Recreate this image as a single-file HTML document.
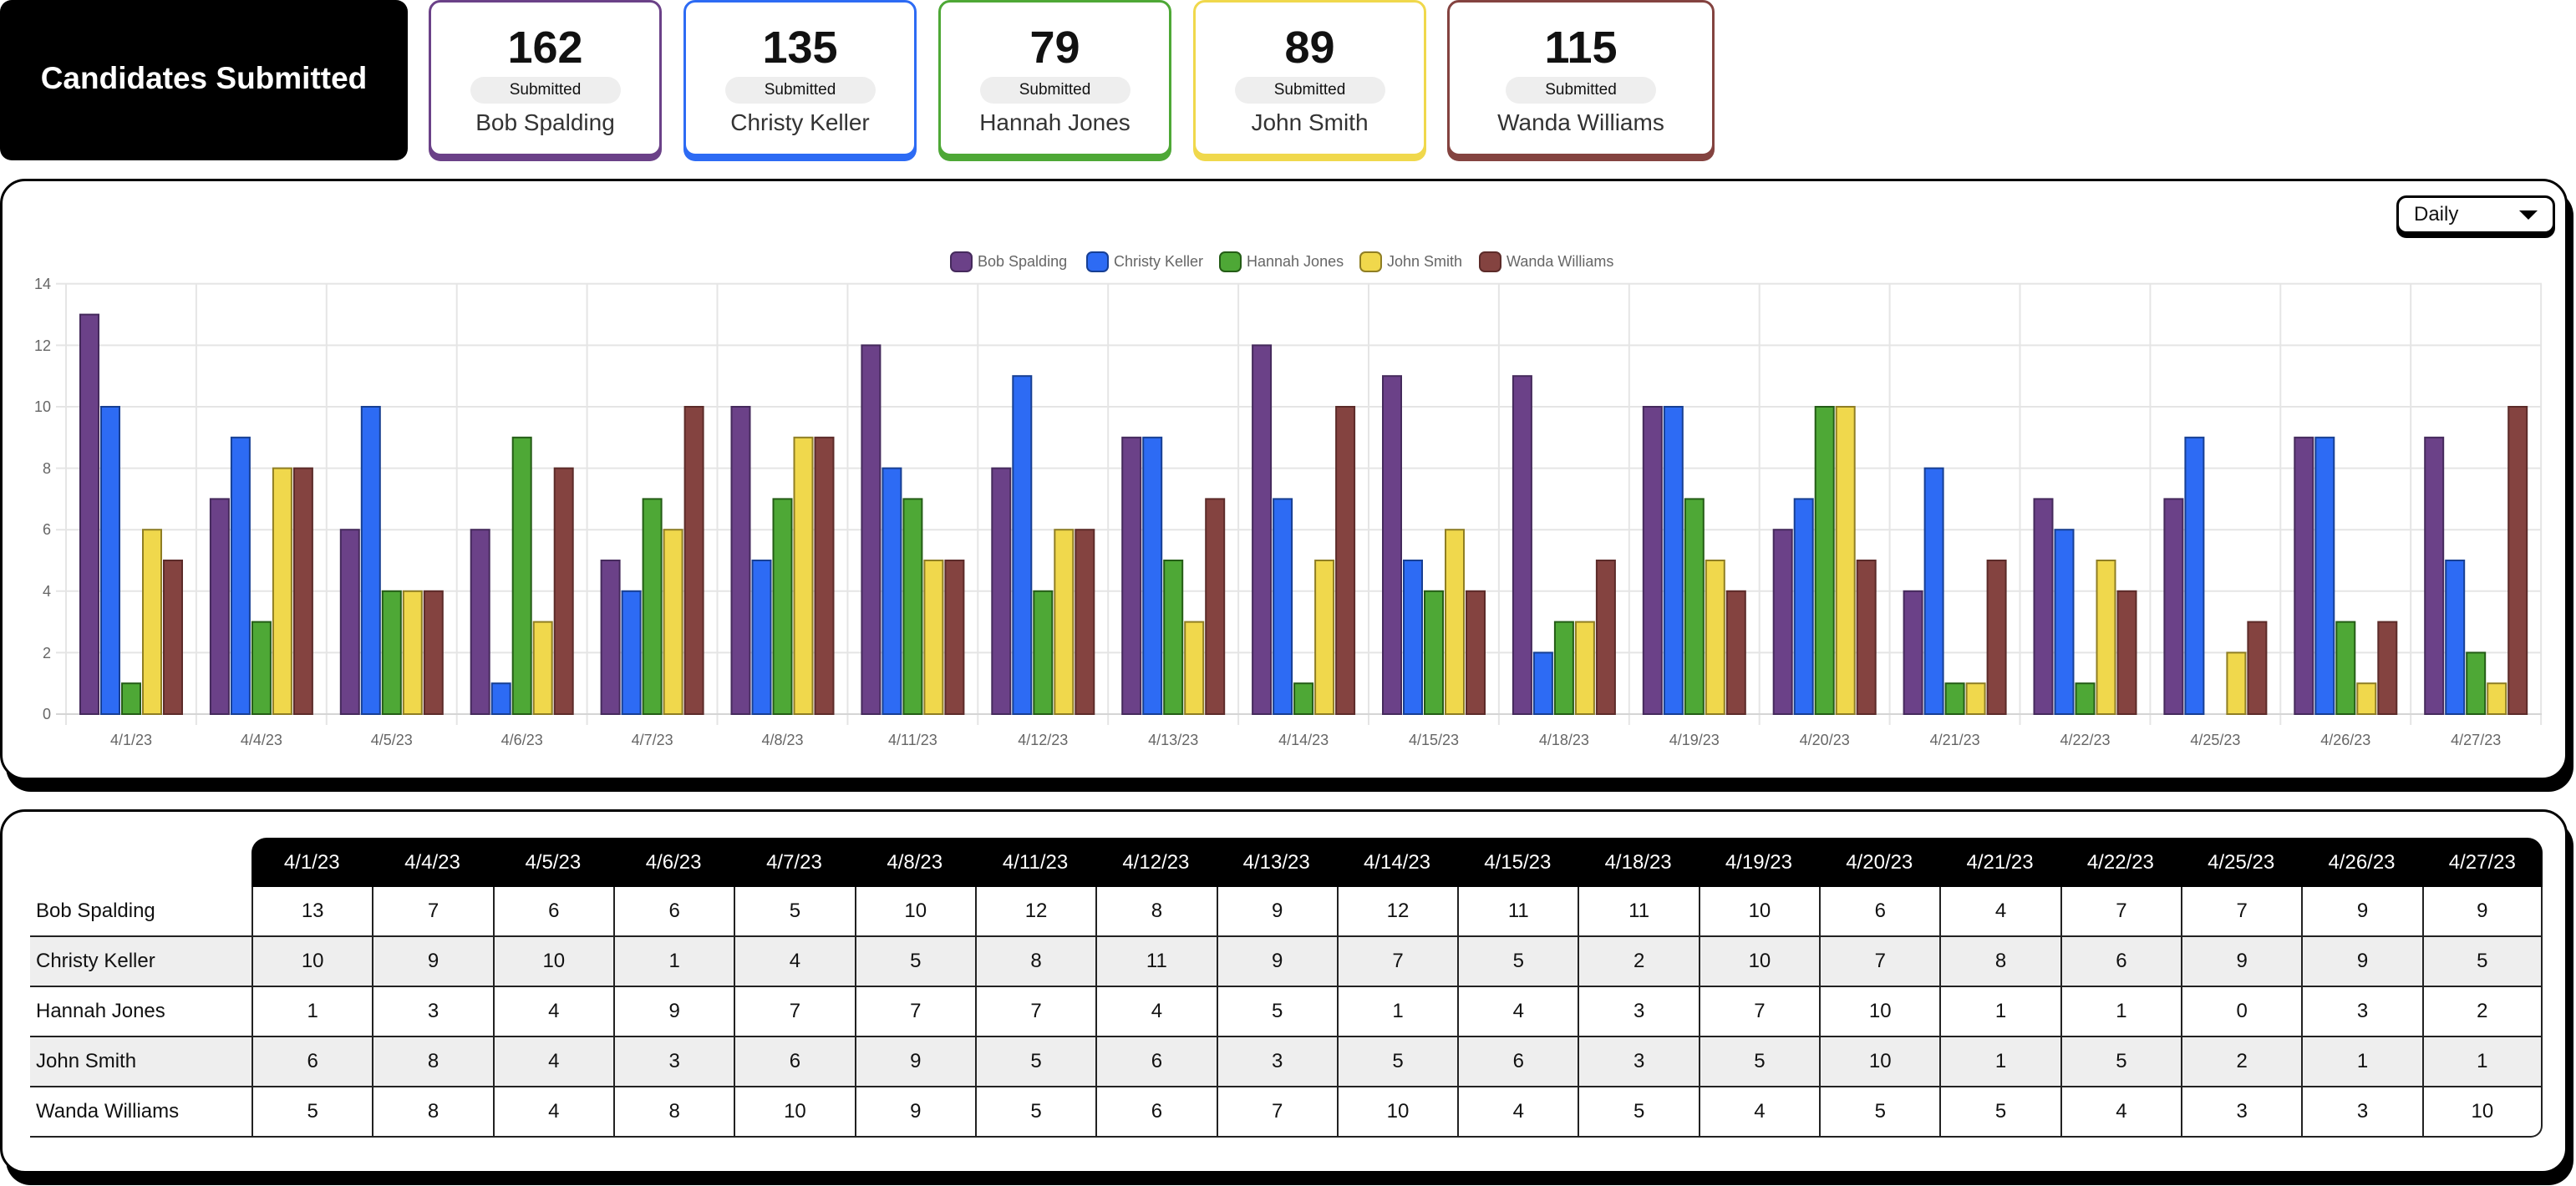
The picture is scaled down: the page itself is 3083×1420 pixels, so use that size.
<!DOCTYPE html>
<html><head><meta charset="utf-8"><style>
*{box-sizing:border-box;margin:0;padding:0}
body{width:3083px;height:1420px;background:#fff;position:relative;overflow:hidden;font-family:"Liberation Sans",sans-serif;color:#111}
.title{position:absolute;left:0;top:0;width:488px;height:187px;background:#000;border-radius:14px;box-shadow:0 5px 0 #000;color:#fff;font-weight:bold;font-size:37px;display:flex;align-items:center;justify-content:center}
.pc{position:absolute;top:0;height:187px;border:3px solid;border-radius:14px;background:#fff;text-align:center}
.pc .n{position:absolute;left:0;right:0;top:24px;font-size:54px;line-height:60px;font-weight:bold;color:#111}
.pc .pill{position:absolute;left:50%;margin-left:-90px;width:180px;top:89px;height:32px;border-radius:16px;background:#eee;font-size:19px;line-height:32px;color:#111}
.pc .nm{position:absolute;left:0;right:0;top:127px;font-size:28px;line-height:34px;color:#333}
.card{position:absolute;left:0;width:3073px;border:3px solid #000;border-radius:30px;background:#fff;box-shadow:7px 14px 0 #000}
.dd{position:absolute;left:2868px;top:234px;width:190px;height:46px;border:3px solid #000;border-radius:12px;background:#fff;box-shadow:0 5px 0 #000;font-size:24px;line-height:40px;padding-left:18px}
.dd:after{content:"";position:absolute;right:18px;top:15px;border-left:11px solid transparent;border-right:11px solid transparent;border-top:11px solid #000}
table{position:absolute;left:36px;top:1003px;border-collapse:separate;border-spacing:0;table-layout:fixed;width:3007px;font-size:24px}
td,th{height:60px;text-align:center;font-weight:normal}
th{background:#000;color:#fff;height:59px}
th.c1{border-top-left-radius:18px}
th.cl{border-top-right-radius:18px}
th.e{background:#fff}
td{border-bottom:2px solid #222;border-left:2px solid #222}
td.nm{text-align:left;padding-left:7px;border-left:none}
td.last{border-right:2px solid #222}
tr.g td{background:#eee}
tr.lr td.last{border-bottom-right-radius:14px}
.p{fill:#6b4188;stroke:#452a5c}.b{fill:#2d6bf4;stroke:#173f93}.gr{fill:#4ea836;stroke:#245c16}.y{fill:#f0d84c;stroke:#8f7e24}.w{fill:#844340;stroke:#5c2b29}
rect{stroke-width:2}
</style></head><body>
<div class="title">Candidates Submitted</div>
<div class="pc" style="left:513px;width:279px;border-color:#6b4188;box-shadow:0 6px 0 #6b4188"><div class="n">162</div><div class="pill">Submitted</div><div class="nm">Bob Spalding</div></div>
<div class="pc" style="left:818px;width:279px;border-color:#2d6bf4;box-shadow:0 6px 0 #2d6bf4"><div class="n">135</div><div class="pill">Submitted</div><div class="nm">Christy Keller</div></div>
<div class="pc" style="left:1123px;width:279px;border-color:#4ea836;box-shadow:0 6px 0 #4ea836"><div class="n">79</div><div class="pill">Submitted</div><div class="nm">Hannah Jones</div></div>
<div class="pc" style="left:1428px;width:279px;border-color:#f0d84c;box-shadow:0 6px 0 #f0d84c"><div class="n">89</div><div class="pill">Submitted</div><div class="nm">John Smith</div></div>
<div class="pc" style="left:1732px;width:320px;border-color:#844340;box-shadow:0 6px 0 #844340"><div class="n">115</div><div class="pill">Submitted</div><div class="nm">Wanda Williams</div></div>

<div class="card" style="top:214px;height:720px"></div>
<div class="dd">Daily</div>
<svg style="position:absolute;left:0;top:0" width="3083" height="960" xmlns="http://www.w3.org/2000/svg">
<g stroke="#e5e5e5" stroke-width="2">
<line x1="67" x2="3042" y1="339.8" y2="339.8"/><line x1="67" x2="3042" y1="413.4" y2="413.4"/><line x1="67" x2="3042" y1="487" y2="487"/><line x1="67" x2="3042" y1="560.6" y2="560.6"/><line x1="67" x2="3042" y1="634.2" y2="634.2"/><line x1="67" x2="3042" y1="707.8" y2="707.8"/><line x1="67" x2="3042" y1="781.4" y2="781.4"/>
<line x1="79" x2="79" y1="340" y2="868"/><line x1="234.9" x2="234.9" y1="340" y2="868"/><line x1="390.8" x2="390.8" y1="340" y2="868"/><line x1="546.7" x2="546.7" y1="340" y2="868"/><line x1="702.6" x2="702.6" y1="340" y2="868"/><line x1="858.5" x2="858.5" y1="340" y2="868"/><line x1="1014.4" x2="1014.4" y1="340" y2="868"/><line x1="1170.3" x2="1170.3" y1="340" y2="868"/><line x1="1326.2" x2="1326.2" y1="340" y2="868"/><line x1="1482.1" x2="1482.1" y1="340" y2="868"/><line x1="1638" x2="1638" y1="340" y2="868"/><line x1="1793.9" x2="1793.9" y1="340" y2="868"/><line x1="1949.8" x2="1949.8" y1="340" y2="868"/><line x1="2105.7" x2="2105.7" y1="340" y2="868"/><line x1="2261.6" x2="2261.6" y1="340" y2="868"/><line x1="2417.5" x2="2417.5" y1="340" y2="868"/><line x1="2573.4" x2="2573.4" y1="340" y2="868"/><line x1="2729.3" x2="2729.3" y1="340" y2="868"/><line x1="2885.2" x2="2885.2" y1="340" y2="868"/><line x1="3041.1" x2="3041.1" y1="340" y2="868"/>
</g>
<line x1="67" x2="3042" y1="855" y2="855" stroke="#d5d5d5" stroke-width="2"/>
<g font-family="Liberation Sans, sans-serif" font-size="18" fill="#666" text-anchor="end">
<text x="61" y="346">14</text><text x="61" y="420">12</text><text x="61" y="493">10</text><text x="61" y="567">8</text><text x="61" y="640">6</text><text x="61" y="714">4</text><text x="61" y="788">2</text><text x="61" y="861">0</text>
</g>
<g font-family="Liberation Sans, sans-serif" font-size="18" fill="#666" text-anchor="middle">
<text x="157" y="892">4/1/23</text><text x="312.9" y="892">4/4/23</text><text x="468.8" y="892">4/5/23</text><text x="624.7" y="892">4/6/23</text><text x="780.6" y="892">4/7/23</text><text x="936.5" y="892">4/8/23</text><text x="1092.4" y="892">4/11/23</text><text x="1248.3" y="892">4/12/23</text><text x="1404.2" y="892">4/13/23</text><text x="1560.1" y="892">4/14/23</text><text x="1716" y="892">4/15/23</text><text x="1871.9" y="892">4/18/23</text><text x="2027.8" y="892">4/19/23</text><text x="2183.7" y="892">4/20/23</text><text x="2339.6" y="892">4/21/23</text><text x="2495.5" y="892">4/22/23</text><text x="2651.4" y="892">4/25/23</text><text x="2807.3" y="892">4/26/23</text><text x="2963.2" y="892">4/27/23</text>
</g>
<g font-family="Liberation Sans, sans-serif" font-size="18" fill="#666">
<rect class="p" x="1138" y="302" width="25" height="23" rx="6"/><text x="1170" y="319">Bob Spalding</text>
<rect class="b" x="1301" y="302" width="25" height="23" rx="6"/><text x="1333" y="319">Christy Keller</text>
<rect class="gr" x="1460" y="302" width="25" height="23" rx="6"/><text x="1492" y="319">Hannah Jones</text>
<rect class="y" x="1628" y="302" width="25" height="23" rx="6"/><text x="1660" y="319">John Smith</text>
<rect class="w" x="1771" y="302" width="25" height="23" rx="6"/><text x="1803" y="319">Wanda Williams</text>
</g>
<g transform="translate(96,0)"><rect class="p" x="0" y="376.6" width="22" height="478.4"/><rect class="b" x="25" y="487" width="22" height="368"/><rect class="gr" x="50" y="818.2" width="22" height="36.8"/><rect class="y" x="75" y="634.2" width="22" height="220.8"/><rect class="w" x="100" y="671" width="22" height="184"/></g>
<g transform="translate(251.9,0)"><rect class="p" x="0" y="597.4" width="22" height="257.6"/><rect class="b" x="25" y="523.8" width="22" height="331.2"/><rect class="gr" x="50" y="744.6" width="22" height="110.4"/><rect class="y" x="75" y="560.6" width="22" height="294.4"/><rect class="w" x="100" y="560.6" width="22" height="294.4"/></g>
<g transform="translate(407.8,0)"><rect class="p" x="0" y="634.2" width="22" height="220.8"/><rect class="b" x="25" y="487" width="22" height="368"/><rect class="gr" x="50" y="707.8" width="22" height="147.2"/><rect class="y" x="75" y="707.8" width="22" height="147.2"/><rect class="w" x="100" y="707.8" width="22" height="147.2"/></g>
<g transform="translate(563.7,0)"><rect class="p" x="0" y="634.2" width="22" height="220.8"/><rect class="b" x="25" y="818.2" width="22" height="36.8"/><rect class="gr" x="50" y="523.8" width="22" height="331.2"/><rect class="y" x="75" y="744.6" width="22" height="110.4"/><rect class="w" x="100" y="560.6" width="22" height="294.4"/></g>
<g transform="translate(719.6,0)"><rect class="p" x="0" y="671" width="22" height="184"/><rect class="b" x="25" y="707.8" width="22" height="147.2"/><rect class="gr" x="50" y="597.4" width="22" height="257.6"/><rect class="y" x="75" y="634.2" width="22" height="220.8"/><rect class="w" x="100" y="487" width="22" height="368"/></g>
<g transform="translate(875.5,0)"><rect class="p" x="0" y="487" width="22" height="368"/><rect class="b" x="25" y="671" width="22" height="184"/><rect class="gr" x="50" y="597.4" width="22" height="257.6"/><rect class="y" x="75" y="523.8" width="22" height="331.2"/><rect class="w" x="100" y="523.8" width="22" height="331.2"/></g>
<g transform="translate(1031.4,0)"><rect class="p" x="0" y="413.4" width="22" height="441.6"/><rect class="b" x="25" y="560.6" width="22" height="294.4"/><rect class="gr" x="50" y="597.4" width="22" height="257.6"/><rect class="y" x="75" y="671" width="22" height="184"/><rect class="w" x="100" y="671" width="22" height="184"/></g>
<g transform="translate(1187.3,0)"><rect class="p" x="0" y="560.6" width="22" height="294.4"/><rect class="b" x="25" y="450.2" width="22" height="404.8"/><rect class="gr" x="50" y="707.8" width="22" height="147.2"/><rect class="y" x="75" y="634.2" width="22" height="220.8"/><rect class="w" x="100" y="634.2" width="22" height="220.8"/></g>
<g transform="translate(1343.2,0)"><rect class="p" x="0" y="523.8" width="22" height="331.2"/><rect class="b" x="25" y="523.8" width="22" height="331.2"/><rect class="gr" x="50" y="671" width="22" height="184"/><rect class="y" x="75" y="744.6" width="22" height="110.4"/><rect class="w" x="100" y="597.4" width="22" height="257.6"/></g>
<g transform="translate(1499.1,0)"><rect class="p" x="0" y="413.4" width="22" height="441.6"/><rect class="b" x="25" y="597.4" width="22" height="257.6"/><rect class="gr" x="50" y="818.2" width="22" height="36.8"/><rect class="y" x="75" y="671" width="22" height="184"/><rect class="w" x="100" y="487" width="22" height="368"/></g>
<g transform="translate(1655,0)"><rect class="p" x="0" y="450.2" width="22" height="404.8"/><rect class="b" x="25" y="671" width="22" height="184"/><rect class="gr" x="50" y="707.8" width="22" height="147.2"/><rect class="y" x="75" y="634.2" width="22" height="220.8"/><rect class="w" x="100" y="707.8" width="22" height="147.2"/></g>
<g transform="translate(1810.9,0)"><rect class="p" x="0" y="450.2" width="22" height="404.8"/><rect class="b" x="25" y="781.4" width="22" height="73.6"/><rect class="gr" x="50" y="744.6" width="22" height="110.4"/><rect class="y" x="75" y="744.6" width="22" height="110.4"/><rect class="w" x="100" y="671" width="22" height="184"/></g>
<g transform="translate(1966.8,0)"><rect class="p" x="0" y="487" width="22" height="368"/><rect class="b" x="25" y="487" width="22" height="368"/><rect class="gr" x="50" y="597.4" width="22" height="257.6"/><rect class="y" x="75" y="671" width="22" height="184"/><rect class="w" x="100" y="707.8" width="22" height="147.2"/></g>
<g transform="translate(2122.7,0)"><rect class="p" x="0" y="634.2" width="22" height="220.8"/><rect class="b" x="25" y="597.4" width="22" height="257.6"/><rect class="gr" x="50" y="487" width="22" height="368"/><rect class="y" x="75" y="487" width="22" height="368"/><rect class="w" x="100" y="671" width="22" height="184"/></g>
<g transform="translate(2278.6,0)"><rect class="p" x="0" y="707.8" width="22" height="147.2"/><rect class="b" x="25" y="560.6" width="22" height="294.4"/><rect class="gr" x="50" y="818.2" width="22" height="36.8"/><rect class="y" x="75" y="818.2" width="22" height="36.8"/><rect class="w" x="100" y="671" width="22" height="184"/></g>
<g transform="translate(2434.5,0)"><rect class="p" x="0" y="597.4" width="22" height="257.6"/><rect class="b" x="25" y="634.2" width="22" height="220.8"/><rect class="gr" x="50" y="818.2" width="22" height="36.8"/><rect class="y" x="75" y="671" width="22" height="184"/><rect class="w" x="100" y="707.8" width="22" height="147.2"/></g>
<g transform="translate(2590.4,0)"><rect class="p" x="0" y="597.4" width="22" height="257.6"/><rect class="b" x="25" y="523.8" width="22" height="331.2"/><rect class="y" x="75" y="781.4" width="22" height="73.6"/><rect class="w" x="100" y="744.6" width="22" height="110.4"/></g>
<g transform="translate(2746.3,0)"><rect class="p" x="0" y="523.8" width="22" height="331.2"/><rect class="b" x="25" y="523.8" width="22" height="331.2"/><rect class="gr" x="50" y="744.6" width="22" height="110.4"/><rect class="y" x="75" y="818.2" width="22" height="36.8"/><rect class="w" x="100" y="744.6" width="22" height="110.4"/></g>
<g transform="translate(2902.2,0)"><rect class="p" x="0" y="523.8" width="22" height="331.2"/><rect class="b" x="25" y="671" width="22" height="184"/><rect class="gr" x="50" y="781.4" width="22" height="73.6"/><rect class="y" x="75" y="818.2" width="22" height="36.8"/><rect class="w" x="100" y="487" width="22" height="368"/></g>
</svg>

<div class="card" style="top:969px;height:436px"></div>
<table>
<colgroup><col style="width:265px"><col span="19" style="width:144.3px"></colgroup>
<tr><th class="e"></th><th class="c1">4/1/23</th><th>4/4/23</th><th>4/5/23</th><th>4/6/23</th><th>4/7/23</th><th>4/8/23</th><th>4/11/23</th><th>4/12/23</th><th>4/13/23</th><th>4/14/23</th><th>4/15/23</th><th>4/18/23</th><th>4/19/23</th><th>4/20/23</th><th>4/21/23</th><th>4/22/23</th><th>4/25/23</th><th>4/26/23</th><th class="cl">4/27/23</th></tr>
<tr><td class="nm">Bob Spalding</td><td>13</td><td>7</td><td>6</td><td>6</td><td>5</td><td>10</td><td>12</td><td>8</td><td>9</td><td>12</td><td>11</td><td>11</td><td>10</td><td>6</td><td>4</td><td>7</td><td>7</td><td>9</td><td class="last">9</td></tr>
<tr class="g"><td class="nm">Christy Keller</td><td>10</td><td>9</td><td>10</td><td>1</td><td>4</td><td>5</td><td>8</td><td>11</td><td>9</td><td>7</td><td>5</td><td>2</td><td>10</td><td>7</td><td>8</td><td>6</td><td>9</td><td>9</td><td class="last">5</td></tr>
<tr><td class="nm">Hannah Jones</td><td>1</td><td>3</td><td>4</td><td>9</td><td>7</td><td>7</td><td>7</td><td>4</td><td>5</td><td>1</td><td>4</td><td>3</td><td>7</td><td>10</td><td>1</td><td>1</td><td>0</td><td>3</td><td class="last">2</td></tr>
<tr class="g"><td class="nm">John Smith</td><td>6</td><td>8</td><td>4</td><td>3</td><td>6</td><td>9</td><td>5</td><td>6</td><td>3</td><td>5</td><td>6</td><td>3</td><td>5</td><td>10</td><td>1</td><td>5</td><td>2</td><td>1</td><td class="last">1</td></tr>
<tr class="lr"><td class="nm">Wanda Williams</td><td>5</td><td>8</td><td>4</td><td>8</td><td>10</td><td>9</td><td>5</td><td>6</td><td>7</td><td>10</td><td>4</td><td>5</td><td>4</td><td>5</td><td>5</td><td>4</td><td>3</td><td>3</td><td class="last">10</td></tr>
</table>
</body></html>
